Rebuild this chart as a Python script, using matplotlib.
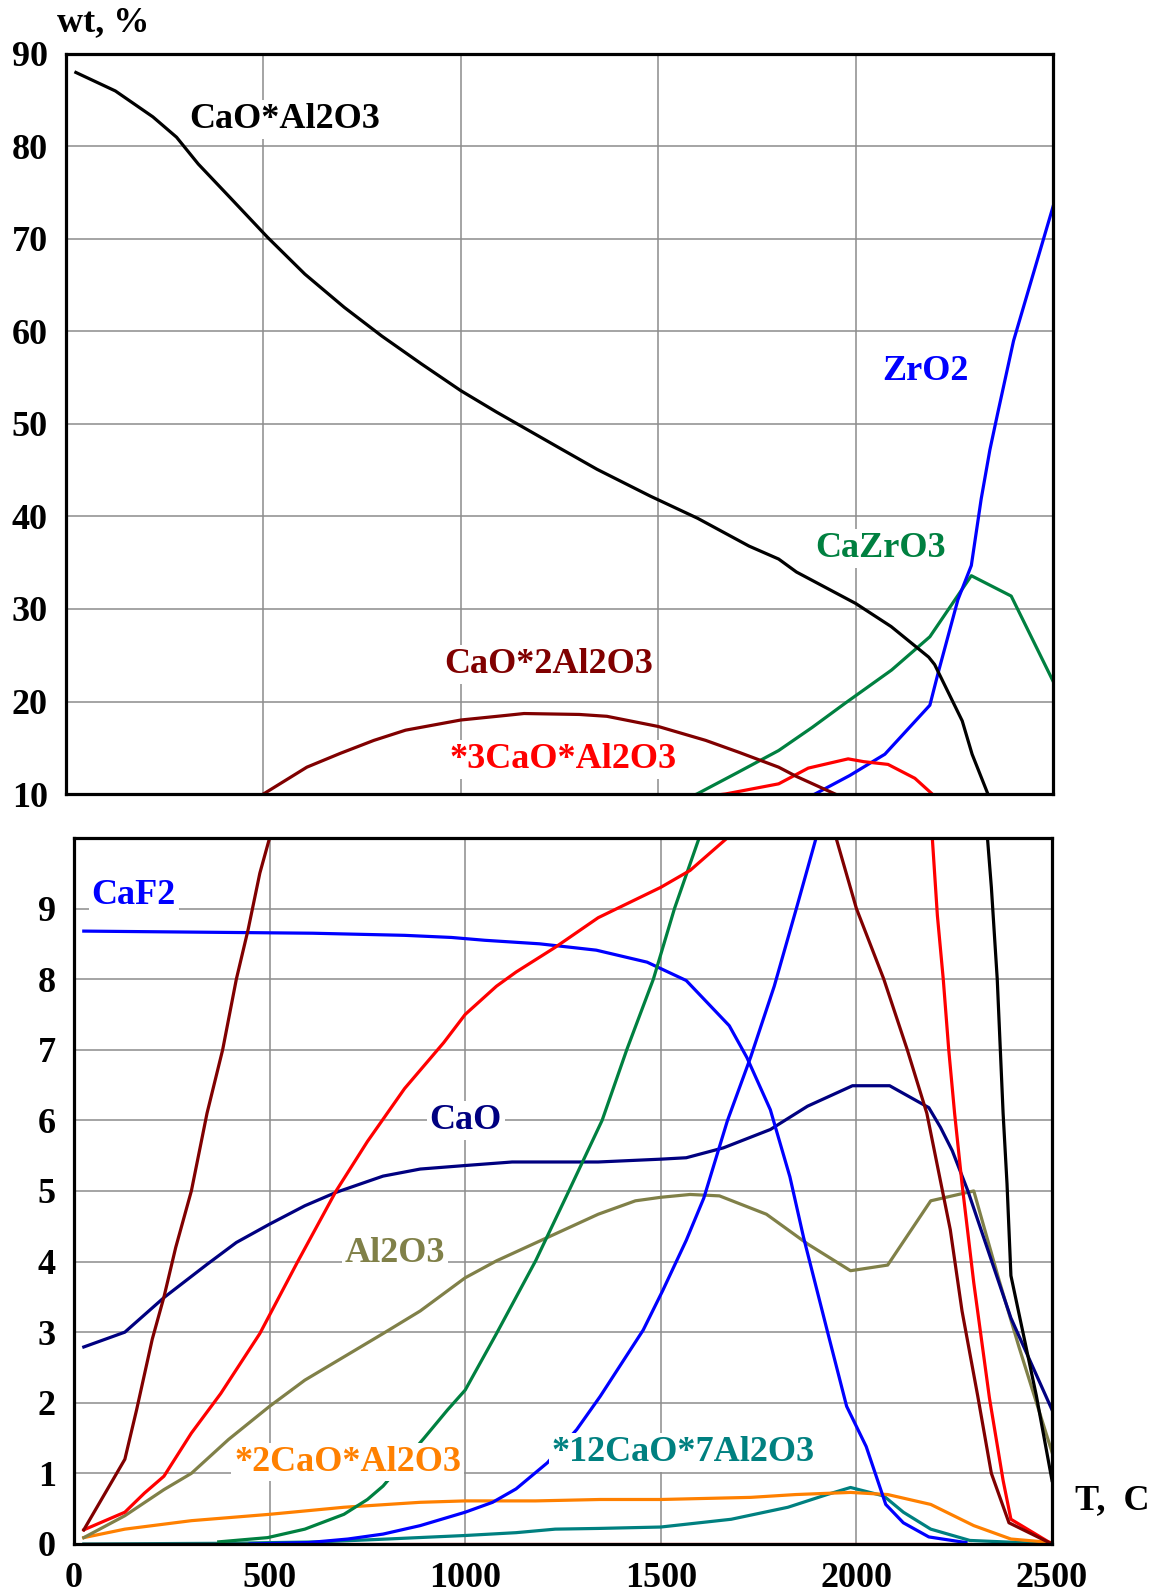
import numpy as np
import matplotlib
matplotlib.use('Agg')
import matplotlib.pyplot as plt

plt.rcParams['font.family'] = ['Liberation Serif', 'DejaVu Serif']
plt.rcParams['font.weight'] = 'bold'

# CaO*Al2O3 (black)
t_cao_al2o3 = [25, 125, 220, 280, 335, 415, 510, 605, 705, 800, 900, 1000, 1090, 1250, 1345,
               1480, 1600, 1730, 1805, 1850, 2000, 2090, 2185, 2200, 2270, 2295, 2335, 2345,
               2360, 2375, 2385, 2395, 2460, 2500]
v_cao_al2o3 = [88.0, 86.0, 83.2, 81.0, 78.1, 74.5, 70.2, 66.2, 62.6, 59.5, 56.5, 53.6, 51.3, 47.4, 45.1,
               42.2, 39.8, 36.8, 35.4, 34.0, 30.6, 28.1, 24.8, 24.0, 17.9, 14.3, 10.0, 9.3,
               8.0, 6.1, 5.1, 3.8, 2.1, 0.9]

# CaO*2Al2O3 (maroon)
t_cao_2al2o3 = [25, 130, 160, 200, 230, 260, 300, 340, 380, 415, 445, 475, 500, 610, 695, 780, 860,
                1000, 1115, 1160, 1300, 1370, 1500, 1620, 1705, 1805, 1850, 1948, 2000, 2070, 2130,
                2180, 2220, 2240, 2270, 2310, 2345, 2390, 2500]
v_cao_2al2o3 = [0.2, 1.2, 1.9, 2.9, 3.5, 4.2, 5.0, 6.1, 7.0, 8.0, 8.7, 9.5, 10.0, 12.9, 14.4, 15.8, 16.9,
                18.0, 18.5, 18.7, 18.6, 18.4, 17.3, 15.8, 14.5, 12.9, 11.9, 10.0, 9.0, 8.0, 7.0,
                6.1, 5.0, 4.45, 3.3, 2.1, 1.0, 0.3, 0.0]

# *3CaO*Al2O3 (red)
t_3cao_al2o3 = [25, 130, 180, 230, 300, 375, 475, 570, 670, 750, 845, 945, 1000, 1080, 1130, 1230,
                1340, 1500, 1575, 1670, 1805, 1880, 1981, 2020, 2082, 2150, 2194, 2207, 2222, 2236,
                2251, 2270, 2300, 2340, 2375, 2395, 2500]
v_3cao_al2o3 = [0.2, 0.45, 0.72, 0.96, 1.57, 2.13, 2.98, 3.98, 5.0, 5.7, 6.45, 7.1, 7.5, 7.9, 8.1, 8.45,
                8.87, 9.3, 9.54, 10.0, 11.1, 12.8, 13.8, 13.5, 13.2, 11.7, 10.0, 8.9, 8.0, 7.0,
                6.1, 5.1, 3.7, 2.07, 0.9, 0.35, 0.0]

# ZrO2 (blue)
t_zro2 = [450, 600, 700, 790, 885, 1000, 1070, 1130, 1210, 1285, 1345, 1455, 1505, 1565, 1610, 1670,
          1730, 1790, 1845, 1897, 1985, 2074, 2188, 2209, 2259, 2293, 2318, 2340, 2360, 2400, 2500]
v_zro2 = [0.0, 0.02, 0.07, 0.14, 0.26, 0.45, 0.59, 0.78, 1.15, 1.62, 2.09, 3.03, 3.59, 4.3, 4.9, 5.99,
          6.9, 7.9, 8.97, 10.0, 12.0, 14.3, 19.6, 23.1, 31.0, 34.7, 41.9, 47.2, 51.2, 59.0, 73.5]

# CaZrO3 (green)
t_cazro3 = [370, 495, 590, 690, 750, 790, 895, 955, 1000, 1080, 1180, 1265, 1350, 1413, 1481, 1535,
            1598, 1700, 1805, 1890, 1973, 2091, 2188, 2293, 2394, 2500]
v_cazro3 = [0.03, 0.09, 0.21, 0.42, 0.63, 0.82, 1.5, 1.9, 2.18, 2.98, 4.01, 5.0, 6.0, 7.0, 8.0, 9.0,
            10.0, 12.3, 14.7, 17.2, 19.8, 23.4, 27.0, 33.6, 31.4, 22.2]

# CaF2 (blue)
t_caf2 = [25, 610, 845, 965, 1050, 1190, 1335, 1465, 1565, 1675, 1720, 1780, 1830, 1865, 1925,
          1975, 2025, 2075, 2120, 2185, 2220, 2280]
v_caf2 = [8.68, 8.65, 8.62, 8.59, 8.55, 8.5, 8.41, 8.24, 7.98, 7.34, 6.89, 6.15, 5.2, 4.34, 3.03,
          1.95, 1.38, 0.56, 0.3, 0.1, 0.07, 0.02]

# CaO (navy)
t_cao = [25, 130, 230, 340, 415, 500, 590, 670, 790, 885, 1000, 1120, 1340, 1500, 1565, 1660, 1780,
         1875, 1990, 2085, 2185, 2215, 2245, 2285, 2395, 2500]
v_cao = [2.79, 3.0, 3.49, 3.96, 4.27, 4.53, 4.79, 4.98, 5.21, 5.31, 5.36, 5.41, 5.41, 5.45, 5.47,
         5.61, 5.87, 6.2, 6.49, 6.49, 6.18, 5.9, 5.57, 5.0, 3.2, 1.9]

# Al2O3 (olive)
t_al2o3 = [25, 130, 230, 300, 395, 500, 590, 690, 790, 885, 1000, 1080, 1210, 1340, 1435, 1500,
           1575, 1650, 1770, 1875, 1985, 2080, 2190, 2300, 2365, 2415, 2500]
v_al2o3 = [0.09, 0.4, 0.77, 1.0, 1.48, 1.95, 2.32, 2.65, 2.98, 3.3, 3.77, 4.01, 4.34, 4.67, 4.86,
           4.91, 4.95, 4.93, 4.67, 4.25, 3.87, 3.95, 4.86, 5.0, 3.73, 2.8, 1.3]

# *2CaO*Al2O3 (orange)
t_2cao_al2o3 = [25, 130, 300, 500, 690, 885, 1000, 1180, 1345, 1500, 1730, 1845, 1985, 2080, 2190,
                2300, 2395, 2500]
v_2cao_al2o3 = [0.09, 0.21, 0.33, 0.42, 0.52, 0.59, 0.61, 0.61, 0.63, 0.63, 0.66, 0.70, 0.73, 0.70,
                0.56, 0.26, 0.07, 0.02]

# *12CaO*7Al2O3 (teal)
t_12cao = [25, 400, 630, 800, 1000, 1130, 1230, 1340, 1500, 1680, 1825, 1925, 1985, 2070, 2120,
           2190, 2290, 2500]
v_12cao = [0.0, 0.01, 0.03, 0.07, 0.12, 0.16, 0.21, 0.22, 0.24, 0.35, 0.52, 0.70, 0.80, 0.68, 0.45,
           0.21, 0.05, 0.0]

# phases at zero
t_zero = [25, 2290]
v_zero = [0.0, 0.0]

series = [
    (t_12cao, v_12cao, '#008080'),
    (t_zero, v_zero, '#ff0000'),
    (t_2cao_al2o3, v_2cao_al2o3, '#ff8000'),
    (t_al2o3, v_al2o3, '#808048'),
    (t_cao, v_cao, '#000080'),
    (t_caf2, v_caf2, '#0000ff'),
    (t_cazro3, v_cazro3, '#008040'),
    (t_zro2, v_zro2, '#0000ff'),
    (t_3cao_al2o3, v_3cao_al2o3, '#ff0000'),
    (t_cao_2al2o3, v_cao_2al2o3, '#800000'),
    (t_cao_al2o3, v_cao_al2o3, '#000000'),
]

fig = plt.figure(figsize=(11.6, 15.96), dpi=100)
ax1 = fig.add_axes([0.0569, 0.5025, 0.8509, 0.4637])
ax2 = fig.add_axes([0.0638, 0.0326, 0.8431, 0.4424])

for ax in (ax1, ax2):
    for t, v, c in series:
        ax.plot(t, v, '-', color=c, lw=2.3, zorder=3)
    ax.set_xlim(0, 2500)
    ax.set_xticks([0, 500, 1000, 1500, 2000, 2500])
    ax.grid(True, color='#8c8c8c', lw=1.1, zorder=1)
    ax.set_axisbelow(True)
    for s in ax.spines.values():
        s.set_linewidth(2.3)
        s.set_zorder(5)
    ax.tick_params(length=0, labelsize=26, pad=13)

ax1.set_ylim(10, 90)
ax1.set_yticks(range(10, 91, 10))
ax1.tick_params(axis='x', labelbottom=False)

ax2.set_ylim(0, 10)
ax2.set_yticks(range(0, 10))

box = dict(facecolor='white', edgecolor='none', pad=2)
lab = dict(fontsize=26, fontweight='bold', ha='center', va='center', zorder=4, bbox=box)

ax1.text(553, 82.9, 'CaO*Al2O3', color='#000000', **lab)
ax1.text(2177, 55.7, 'ZrO2', color='#0000ff', **lab)
ax1.text(2063, 36.5, 'CaZrO3', color='#008040', **lab)
ax1.text(1222, 24.0, 'CaO*2Al2O3', color='#800000', **lab)
ax1.text(1260, 13.7, '*3CaO*Al2O3', color='#ff0000', **lab)

ax2.text(153, 9.19, 'CaF2', color='#0000ff', **lab)
ax2.text(1001, 6.0, 'CaO', color='#000080', **lab)
ax2.text(820, 4.12, 'Al2O3', color='#808048', **lab)
ax2.text(700, 1.16, '*2CaO*Al2O3', color='#ff8000', **lab)
ax2.text(1558, 1.29, '*12CaO*7Al2O3', color='#008080', **lab)

fig.text(0.089, 0.986, 'wt, %', fontsize=26, fontweight='bold', ha='center', va='center')
fig.text(0.959, 0.0595, 'T,  C', fontsize=26, fontweight='bold', ha='center', va='center')

plt.savefig('out.png', dpi=100)
plt.close()
